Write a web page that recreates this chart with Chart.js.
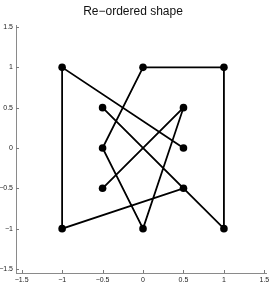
<!DOCTYPE html>
<html>
<head>
<meta charset="utf-8">
<script src="https://cdn.jsdelivr.net/npm/chart.js@4"></script>
<style>
    html, body { margin: 0; padding: 0; background: #fff; }
    #wrap { width: 273px; height: 283px; }
</style>
</head>
<body>
<div id="wrap"><canvas id="shapeChart"></canvas></div>
<script>
// vertices of the shape, in drawing order
const xs = [0.5, -1, -1, 0.5, -0.5, 1, 1, 0, -0.5, 0, 0.5, -0.5];
const ys = [0, 1, -1, -0.5, 0.5, -1, 1, 1, 0, -1, 0.5, -0.5];
const tickValues = [-1.5, -1, -0.5, 0, 0.5, 1, 1.5];

const points = xs.map((x, i) => ({ x: x, y: ys[i] }));

// MATLAB-style small ticks pointing into the plot
const innerTicks = {
    id: 'innerTicks',
    afterDraw(chart) {
        const ctx = chart.ctx;
        const area = chart.chartArea;
        ctx.save();
        ctx.strokeStyle = '#7a7a7a';
        ctx.lineWidth = 1;
        ctx.beginPath();
        chart.scales.x.ticks.forEach(t => {
            const px = Math.round(chart.scales.x.getPixelForValue(t.value)) + 0.5;
            ctx.moveTo(px, area.bottom);
            ctx.lineTo(px, area.bottom - 3);
        });
        chart.scales.y.ticks.forEach(t => {
            const py = Math.round(chart.scales.y.getPixelForValue(t.value)) + 0.5;
            ctx.moveTo(area.left, py);
            ctx.lineTo(area.left + 3, py);
        });
        ctx.stroke();
        ctx.restore();
    }
};

function fmt(v) {
    return String(v).replace('-', '\u2212');
}

const ctx = document.getElementById('shapeChart').getContext('2d');
window.shapeChart = new Chart(ctx, {
    type: 'scatter',
    data: {
        datasets: [{
            data: points,
            showLine: true,
            borderColor: '#000',
            backgroundColor: '#000',
            borderWidth: 1.8,
            pointRadius: 3.8,
            pointHoverRadius: 3.8,
            pointBorderWidth: 0
        }]
    },
    options: {
        responsive: true,
        maintainAspectRatio: false,
        animation: false,
        layout: { padding: { left: 0, right: 7, top: 0, bottom: 0 } },
        plugins: {
            legend: { display: false },
            tooltip: { enabled: false },
            title: {
                display: true,
                text: 'Re\u2212ordered shape',
                color: '#111',
                font: { family: 'Liberation Sans', size: 12, weight: 'normal' },
                padding: { top: 4, bottom: 7 }
            }
        },
        scales: {
            x: {
                type: 'linear',
                min: -1.57,
                max: 1.52,
                afterBuildTicks: s => { s.ticks = tickValues.map(v => ({ value: v })); },
                afterFit: s => { s.height = 10; },
                grid: { display: false, drawTicks: false },
                border: { display: true, color: '#8a8a8a', width: 1 },
                ticks: {
                    color: '#222',
                    font: { family: 'Liberation Sans', size: 7 },
                    padding: 3,
                    maxRotation: 0,
                    autoSkip: false,
                    callback: v => fmt(v)
                }
            },
            y: {
                type: 'linear',
                min: -1.55,
                max: 1.52,
                afterBuildTicks: s => { s.ticks = tickValues.map(v => ({ value: v })); },
                afterFit: s => { s.width = 16; },
                grid: { display: false, drawTicks: false },
                border: { display: true, color: '#8a8a8a', width: 1 },
                ticks: {
                    color: '#222',
                    font: { family: 'Liberation Sans', size: 7 },
                    padding: 3,
                    autoSkip: false,
                    callback: v => fmt(v)
                }
            }
        }
    },
    plugins: [innerTicks]
});
</script>
</body>
</html>
